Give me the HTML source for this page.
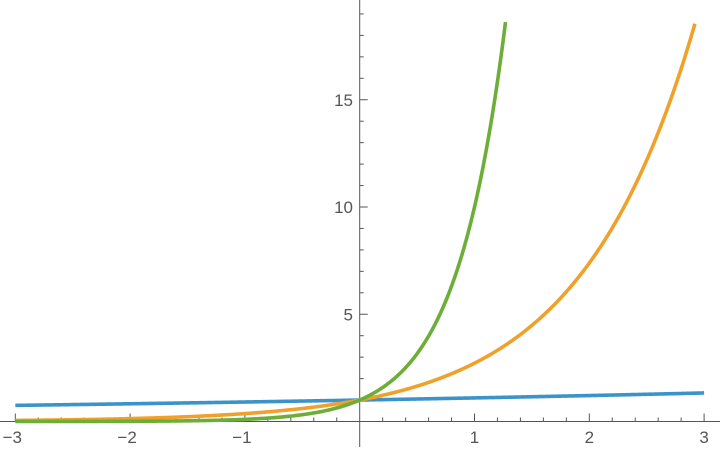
<!DOCTYPE html>
<html><head><meta charset="utf-8"><style>
html,body{margin:0;padding:0;background:#fff;}
svg{display:block;}
text{font-family:"Liberation Sans",sans-serif;font-size:17px;fill:#555;}
</style></head><body>
<svg id="s" width="720" height="451" viewBox="0 0 720 451" xmlns="http://www.w3.org/2000/svg">
<g id="ax" stroke="#555" stroke-width="1" fill="none"></g>
<g id="lab"></g>
<g id="cv" fill="none" stroke-width="3.6" stroke-linejoin="round" stroke-linecap="butt"></g>
</svg>
<script>
var X0=359.7,SX=114.8,Y0=421.5,SY=21.45,NS="http://www.w3.org/2000/svg";
function px(x){return X0+x*SX} function py(y){return Y0-y*SY}
var ax=document.getElementById('ax'),lab=document.getElementById('lab'),cv=document.getElementById('cv');
function el(p,t,a,txt){var e=document.createElementNS(NS,t);for(var k in a)e.setAttribute(k,a[k]);if(txt!=null)e.textContent=txt;p.appendChild(e);return e}
el(ax,'line',{x1:0,y1:Y0,x2:720,y2:Y0});
el(ax,'line',{x1:X0,y1:0,x2:X0,y2:447});
for(var i=-15;i<=15;i++){var x=px(i/5);var L=(i%5==0)?8:4;if(i==0)continue;el(ax,'line',{x1:x,y1:Y0,x2:x,y2:Y0-L});}
for(var v=1;v<=19;v++){var y=py(v);var L=(v%5==0)?8:4;el(ax,'line',{x1:X0,y1:y,x2:X0+L,y2:y});}
[-3,-2,-1,1,2,3].forEach(function(v){el(lab,'text',{x:px(v)+(v<0?-3:0),y:443,'text-anchor':'middle'},v<0?'\u2212'+(-v):''+v)});
[5,10,15].forEach(function(v){el(lab,'text',{x:353,y:py(v)+6,'text-anchor':'end'},''+v)});
function curve(b,col){var d='';for(var x=-3;x<=3.0001;x+=0.01){var y=Math.pow(b,x);if(y>18.7)break;d+=(d?'L':'M')+px(x).toFixed(2)+','+py(y).toFixed(2);}el(cv,'path',{d:d,stroke:col});}
curve(1.1,'#3c93c9');curve(Math.E,'#f0a12b');curve(10,'#6cae38');
</script>
</body></html>
